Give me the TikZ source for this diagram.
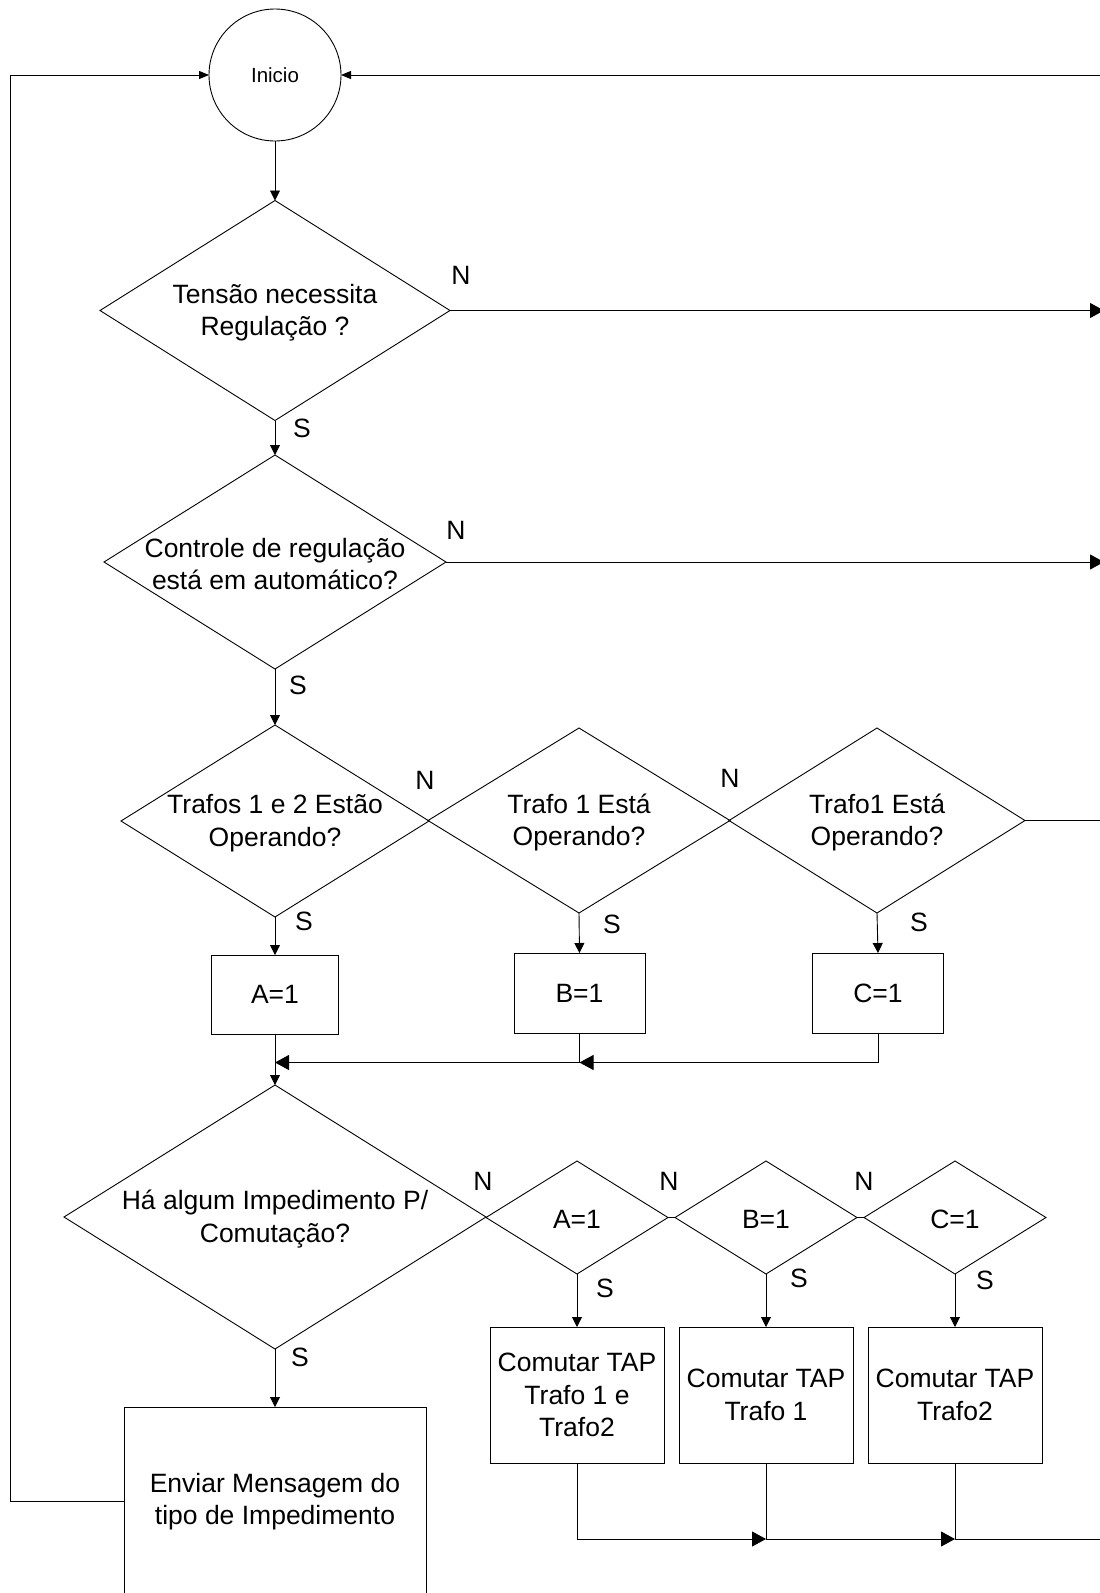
\documentclass[tikz,border=0pt]{standalone}
\usepackage{fontspec}
\setmainfont{Liberation Sans}
\usetikzlibrary{shapes.geometric,arrows.meta}
\newcommand{\mytxt}{\fontsize{26.5}{32.5}\selectfont}
\begin{document}
\begin{tikzpicture}[x=1pt,y=-1pt,line width=0.9pt,
  dia/.style={draw,diamond,inner sep=0pt,outer sep=0pt},
  box/.style={draw,rectangle,inner sep=0pt,outer sep=0pt,align=center,font=\mytxt},
  txt/.style={align=center,font=\mytxt,inner sep=0pt,yshift=-2pt},
  lab/.style={font=\mytxt,inner sep=0pt},
  arr/.style={-{Triangle[length=10pt,width=10pt]}},
  arrb/.style={-{Triangle[length=14pt,width=15pt]}},
  arrs/.style={-{Triangle[length=10pt,width=8pt]}}]
\useasboundingbox (0,0) rectangle (1100,1593);
\fill[white] (0,0) rectangle (1100,1593);
\clip (0,0) rectangle (1100,1593);

% start
\node[draw,circle,minimum size=132pt,inner sep=0pt,outer sep=0pt,font=\fontsize{20.5}{24}\selectfont] (c) at (275,75) {Inicio};

% decisions
\node[dia,minimum width=350pt,minimum height=220pt] (d1) at (275,310.5) {};
\node[txt] (t1) at (d1) {Tensão necessita\\Regulação ?};
\node[dia,minimum width=342pt,minimum height=214pt] (d2) at (275,562) {};
\node[txt] (t2) at (d2) {Controle de regulação\\está em automático?};
\node[dia,minimum width=308pt,minimum height=192pt] (d3) at (275,821) {};
\node[txt] (t3) at (d3) {Trafos 1 e 2 Estão\\Operando?};
\node[dia,minimum width=302pt,minimum height=185pt] (d4) at (579,820.5) {};
\node[txt] (t4) at (d4) {Trafo 1 Está\\Operando?};
\node[dia,minimum width=296pt,minimum height=185pt] (d5) at (877,820.5) {};
\node[txt] (t5) at (d5) {Trafo1 Está\\Operando?};

% A B C boxes
\node[box,minimum width=127pt,minimum height=79pt] (ba) at (275,994.5) {A=1};
\node[box,minimum width=131pt,minimum height=80pt] (bb) at (579.5,993) {B=1};
\node[box,minimum width=131pt,minimum height=80pt] (bc) at (878,993) {C=1};

% impediment
\node[dia,minimum width=422pt,minimum height=264pt] (d6) at (275,1217) {};
\node[txt] (t6) at (d6) {Há algum Impedimento P/\\Comutação?};
\node[dia,minimum width=182pt,minimum height=113pt] (da) at (577,1217.5) {};
\node[txt] (ta) at (da) {A=1};
\node[dia,minimum width=182pt,minimum height=113pt] (db) at (766,1217.5) {};
\node[txt] (tb) at (db) {B=1};
\node[dia,minimum width=182pt,minimum height=113pt] (dc) at (955,1217.5) {};
\node[txt] (tc) at (dc) {C=1};

% action boxes
\node[box,minimum width=174pt,minimum height=136pt] (c1) at (577,1395) {Comutar TAP\\Trafo 1 e\\Trafo2};
\node[box,minimum width=174pt,minimum height=136pt] (c2) at (766,1395) {Comutar TAP\\Trafo 1};
\node[box,minimum width=174pt,minimum height=136pt] (c3) at (955,1395) {Comutar TAP\\Trafo2};
\node[box,minimum width=302pt,minimum height=189pt] (be) at (275,1501.5) {Enviar Mensagem do\\tipo de Impedimento};

% coordinates
\coordinate (r0) at (1100,75);
\coordinate (r1) at (1104,310.5);
\coordinate (r2) at (1104,562);
\coordinate (r3) at (1100,820.5);
\coordinate (jb) at (579.5,1062.5);
\coordinate (ja) at (275,1062.5);
\coordinate (k2) at (766,1539);
\coordinate (k3) at (955,1539);
\coordinate (k4) at (1100,1539);
\coordinate (lc) at (10.5,75);

% connectors
\draw[arr] (c.south) -- (d1.north);
\draw[arr] (d1.south) -- (d2.north);
\draw[arr] (d2.south) -- (d3.north);
\draw[arrs] (r0) -- (c.east);
\draw[arrb] (d1.east) -- (r1);
\draw[arrb] (d2.east) -- (r2);
\draw (d5.east) -- (r3);
\draw[arr] (d3.south) -- (ba.north);
\draw[arr] (d4.south) -- (bb.north);
\draw[arr] (d5.south) -- (bc.north);
\draw[arrb] (bc.south) |- (jb);
\draw (bb.south) -- (jb);
\draw[arrb] (jb) -- (ja);
\draw[arr] (ba.south) -- (d6.north);
\draw[arr] (d6.south) -- (be.north);
\draw (da.east) -- (db.west);
\draw (db.east) -- (dc.west);
\draw[arr] (da.south) -- (c1.north);
\draw[arr] (db.south) -- (c2.north);
\draw[arr] (dc.south) -- (c3.north);
\draw[arrb] (c1.south) |- (k2);
\draw (c2.south) -- (k2);
\draw[arrb] (k2) -- (k3);
\draw (c3.south) -- (k3) -- (k4);
\draw[arrs] (be.west) -| (lc) -- (c.west);

% labels
\node[lab] (n1) at (461,275) {N};
\node[lab] (s1) at (302,428) {S};
\node[lab] (n2) at (456,530) {N};
\node[lab] (s2) at (298,685) {S};
\node[lab] (n3) at (425,780) {N};
\node[lab] (n4) at (730,778) {N};
\node[lab] (s3) at (304,921) {S};
\node[lab] (s4) at (612,924) {S};
\node[lab] (s5) at (919,922) {S};
\node[lab] (n6) at (483,1181) {N};
\node[lab] (n7) at (669,1181) {N};
\node[lab] (n8) at (864,1181) {N};
\node[lab] (s6) at (300,1357) {S};
\node[lab] (s7) at (605,1288) {S};
\node[lab] (s8) at (799,1278) {S};
\node[lab] (s9) at (985,1280) {S};
\end{tikzpicture}
\end{document}
